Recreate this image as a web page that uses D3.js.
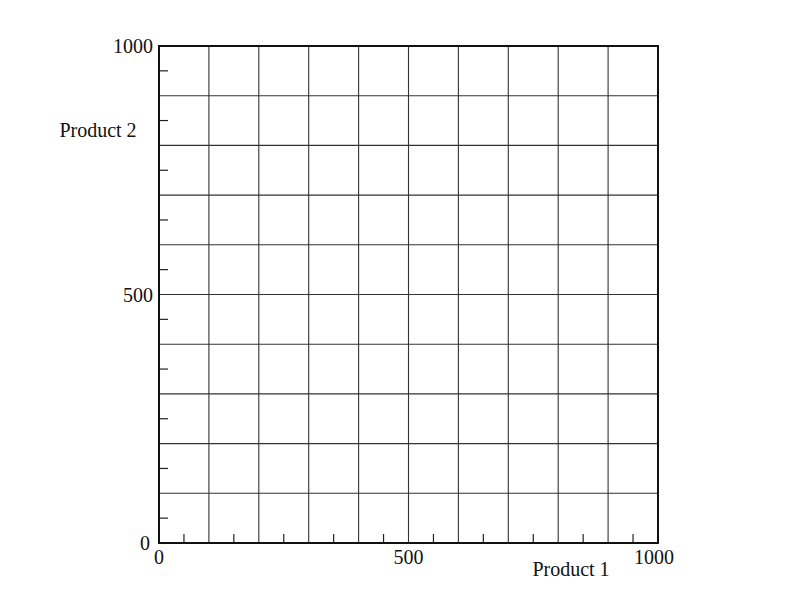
<!DOCTYPE html>
<html>
<head>
<meta charset="utf-8">
<script src="https://cdn.jsdelivr.net/npm/d3@7"></script>
<style>
  body { margin: 0; background: #fff; }
  text { font-family: "Liberation Serif", "DejaVu Serif", serif; font-size: 20px; fill: #111; }
</style>
</head>
<body>
<div id="chart"></div>
<script>
const xDomain = [0, 1000];
const yDomain = [0, 1000];
const labelTicks = [0, 500, 1000];
const gridValues = d3.range(0, 1001, 100);
const minorValues = d3.range(50, 1000, 100);
const xTitle = 'Product 1';
const yTitle = 'Product 2';

const width = 788, height = 610;
const plot = { left: 159, right: 658, top: 46, bottom: 543 };

const svg = d3.select('#chart').append('svg')
  .attr('width', width).attr('height', height);

const x = d3.scaleLinear().domain(xDomain).range([plot.left, plot.right]);
const y = d3.scaleLinear().domain(yDomain).range([plot.bottom, plot.top]);

// grid
svg.append('g').selectAll('line').data(gridValues).enter().append('line')
  .attr('x1', d => x(d)).attr('x2', d => x(d))
  .attr('y1', plot.top).attr('y2', plot.bottom)
  .attr('stroke', '#333').attr('stroke-width', 1.1);
svg.append('g').selectAll('line').data(gridValues).enter().append('line')
  .attr('y1', d => y(d)).attr('y2', d => y(d))
  .attr('x1', plot.left).attr('x2', plot.right)
  .attr('stroke', '#333').attr('stroke-width', 1.1);

// minor ticks
svg.append('g').selectAll('line').data(minorValues).enter().append('line')
  .attr('x1', d => x(d)).attr('x2', d => x(d))
  .attr('y1', plot.bottom).attr('y2', plot.bottom - 9)
  .attr('stroke', '#222').attr('stroke-width', 1.2);
svg.append('g').selectAll('line').data(minorValues).enter().append('line')
  .attr('y1', d => y(d)).attr('y2', d => y(d))
  .attr('x1', plot.left).attr('x2', plot.left + 9)
  .attr('stroke', '#222').attr('stroke-width', 1.2);

// frame
svg.append('rect')
  .attr('x', plot.left).attr('y', plot.top)
  .attr('width', plot.right - plot.left).attr('height', plot.bottom - plot.top)
  .attr('fill', 'none').attr('stroke', '#111').attr('stroke-width', 2);

// tick labels
svg.append('g').selectAll('text').data(labelTicks).enter().append('text')
  .attr('x', d => x(d) - (d === 1000 ? 4 : 0)).attr('y', plot.bottom + 21)
  .attr('text-anchor', 'middle')
  .text(d => d);
svg.append('g').selectAll('text').data(labelTicks).enter().append('text')
  .attr('x', d => plot.left - (d === 0 ? 9 : 6)).attr('y', d => y(d) + 7)
  .attr('text-anchor', 'end')
  .text(d => d);

// axis titles
svg.append('text').attr('x', 571).attr('y', 576)
  .attr('text-anchor', 'middle').text(xTitle);
svg.append('text').attr('x', 98).attr('y', 137)
  .attr('text-anchor', 'middle').text(yTitle);
</script>
</body>
</html>
